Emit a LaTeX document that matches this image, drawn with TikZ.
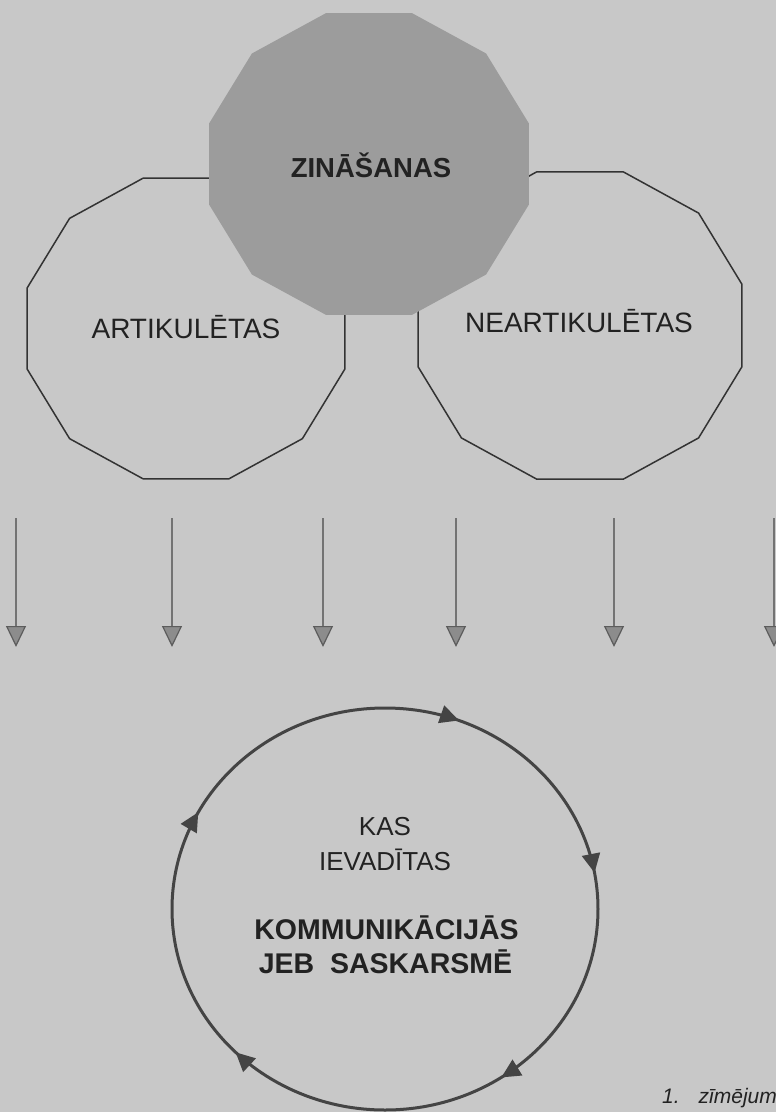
\documentclass[tikz,border=0pt]{standalone}
\usepackage{fontspec}
\setmainfont{Liberation Sans}
\usetikzlibrary{arrows.meta,decorations.markings}
\definecolor{bg}{HTML}{C8C8C8}
\definecolor{polyfill}{HTML}{9C9C9C}
\definecolor{outl}{HTML}{333333}
\definecolor{shaft}{HTML}{737373}
\definecolor{headfill}{HTML}{8C8C8C}
\definecolor{ink}{HTML}{222222}
\definecolor{circcol}{HTML}{444444}
\tikzset{
  outline/.style={draw=outl, line width=1.5pt, line join=miter},
  greypoly/.style={fill=polyfill, draw=none},
  downarrow/.style={draw=shaft, line width=1.2pt,
    -{Triangle[width=20pt,length=21pt,fill=headfill,color=shaft!80!black]}},
  circline/.style={draw=circcol, line width=3pt},
  circhead/.style={circcol},
  lbl/.style={text=ink, inner sep=0pt, anchor=base},
}
\begin{document}
\begin{tikzpicture}[x=1pt,y=-1pt]
\fill[bg] (0,0) rectangle (776,1112);
\useasboundingbox (0,0) rectangle (776,1112);

% outline dodecagons
\draw[outline] plot[samples at={15,45,...,345}] ({186+164.6*cos(\x)},{328.5+155.8*sin(\x)}) -- cycle;
\draw[outline] plot[samples at={15,45,...,345}] ({580+167.7*cos(\x)},{325.5+159*sin(\x)}) -- cycle;
% grey dodecagon
\fill[greypoly] plot[samples at={15,45,...,345}] ({369+165.6*cos(\x)},{164+156.3*sin(\x)}) -- cycle;

\node[lbl, font=\bfseries\fontsize{27.5}{33}\selectfont] (zin) at (371,177) {ZINĀŠANAS};
\node[lbl, font=\fontsize{28}{33}\selectfont] (art) at (186,338) {ARTIKULĒTAS};
\node[lbl, font=\fontsize{28}{33}\selectfont] (neart) at (579,332) {NEARTIKULĒTAS};

% arrows
\foreach \i/\xx in {1/16,2/172,3/323,4/456,5/614,6/774}{
  \coordinate (s\i) at (\xx,518);
  \coordinate (e\i) at (\xx,647);
  \draw[downarrow] (s\i) -- (e\i);
}

% cycle
\draw[circline, postaction={decorate, decoration={markings,
   mark=at position 0.156 with {\arrow[circhead]{Triangle[length=19pt,width=18pt]}},
   mark=at position 0.376 with {\arrow[circhead]{Triangle[length=19pt,width=18pt]}},
   mark=at position 0.578 with {\arrow[circhead]{Triangle[length=19pt,width=18pt]}},
   mark=at position 0.808 with {\arrow[circhead]{Triangle[length=19pt,width=18pt]}},
   mark=at position 0.972 with {\arrow[circhead]{Triangle[length=19pt,width=18pt]}}}}]
   (385,909) ellipse [x radius=213, y radius=201];

\node[lbl, font=\fontsize{26}{30}\selectfont] (kas) at (385,835) {KAS};
\node[lbl, font=\fontsize{26}{30}\selectfont] (iev) at (385,870) {IEVADĪTAS};
\node[lbl, font=\bfseries\fontsize{28.5}{34}\selectfont] (kom) at (386.5,939) {KOMMUNIKĀCIJĀS};
\node[lbl, font=\bfseries\fontsize{28.5}{34}\selectfont] (jeb) at (385.5,973) {JEB\ \ SASKARSMĒ};

\node[text=ink, inner sep=0pt, anchor=base west, font=\itshape\fontsize{21}{25}\selectfont] (cap) at (662,1103) {1.\hspace{19pt}zīmējum};
\end{tikzpicture}
\end{document}
